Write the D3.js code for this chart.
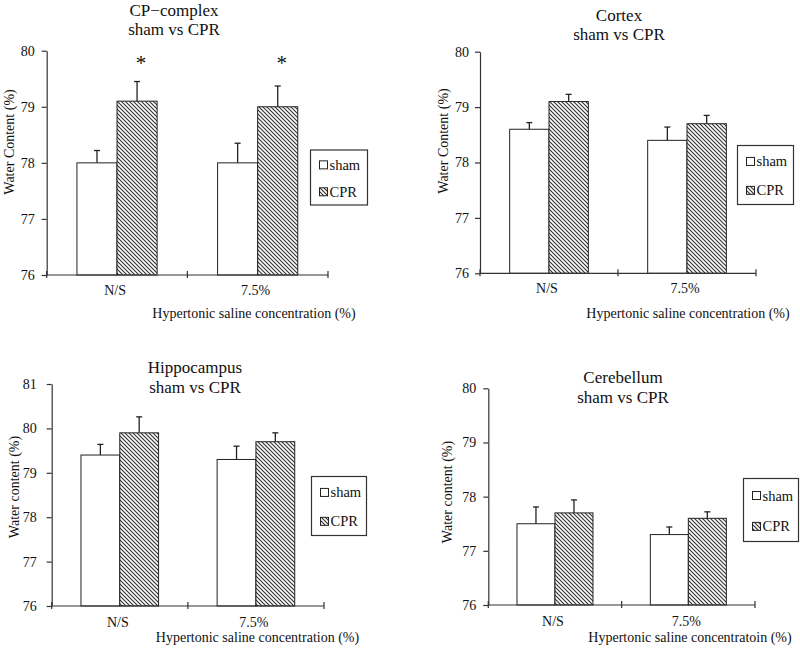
<!DOCTYPE html>
<html>
<head>
<meta charset="utf-8">
<script src="https://cdn.jsdelivr.net/npm/d3@7"></script>
<style>
  html, body { margin: 0; padding: 0; background: #fff; }
  svg { display: block; }
  text { font-family: "Liberation Serif", "Times New Roman", serif; fill: #111; }
</style>
</head>
<body>
<div id="chart"></div>
<script>
// ---------- data ----------
const categories = ["N/S", "7.5%"];
const seriesNames = ["sham", "CPR"];

const cpTitle = ["CP\u2212complex", "sham vs CPR"];
const cpSham = [78.0, 78.0];
const cpShamErr = [0.22, 0.35];
const cpCpr = [79.1, 79.0];
const cpCprErr = [0.35, 0.37];
const cpStars = ["*", "*"]; // marks above CPR bars
const cpYTicks = [76, 77, 78, 79, 80];

const cortexTitle = ["Cortex", "sham vs CPR"];
const cortexSham = [78.6, 78.4];
const cortexShamErr = [0.12, 0.24];
const cortexCpr = [79.1, 78.7];
const cortexCprErr = [0.13, 0.15];
const cortexYTicks = [76, 77, 78, 79, 80];

const hippoTitle = ["Hippocampus", "sham vs CPR"];
const hippoSham = [79.4, 79.3];
const hippoShamErr = [0.24, 0.30];
const hippoCpr = [79.9, 79.7];
const hippoCprErr = [0.36, 0.20];
const hippoYTicks = [76, 77, 78, 79, 80, 81];

const cereTitle = ["Cerebellum", "sham vs CPR"];
const cereSham = [77.5, 77.3];
const cereShamErr = [0.31, 0.14];
const cereCpr = [77.7, 77.6];
const cereCprErr = [0.24, 0.12];
const cereYTicks = [76, 77, 78, 79, 80];

const noStars = ["", ""];
const yLabelUpper = "Water Content (%)";
const yLabelLower = "Water content (%)";
const xLabelA = "Hypertonic saline concentration (%)";
const xLabelB = "Hypertonic saline concentratoin (%)";

// ---------- svg ----------
const W = 800, H = 648;
const svg = d3.select("#chart").append("svg").attr("width", W).attr("height", H);

const defs = svg.append("defs");
const pat = defs.append("pattern")
  .attr("id", "hatch").attr("patternUnits", "userSpaceOnUse")
  .attr("width", 4).attr("height", 4);
pat.append("rect").attr("width", 4).attr("height", 4).attr("fill", "#fff");
pat.append("path")
  .attr("d", "M-1,-1 L5,5 M-1,3 L1,5 M3,-1 L5,1")
  .attr("stroke", "#333").attr("stroke-width", 1.15);

// ---------- panel layout (positions only) ----------
const panels = [
  { title: cpTitle, sham: cpSham, shamErr: cpShamErr, cpr: cpCpr, cprErr: cpCprErr, stars: cpStars,
    ticks: cpYTicks, yLabel: yLabelUpper, xLabel: xLabelA,
    x0: 46.7, x1: 328, yTop: 50.7, yBot: 275, tickPad: 7,
    titleX: 174, titleY: [16, 35], yLabX: 9, yLabY: 142,
    catDy: 20, xLabX: 254, xLabY: 318,
    legend: { x: 310.5, y: 150, w: 57, h: 55 } },
  { title: cortexTitle, sham: cortexSham, shamErr: cortexShamErr, cpr: cortexCpr, cprErr: cortexCprErr, stars: noStars,
    ticks: cortexYTicks, yLabel: yLabelUpper, xLabel: xLabelA,
    x0: 480, x1: 756, yTop: 51.7, yBot: 273.3, tickPad: 6,
    titleX: 619, titleY: [21, 40], yLabX: 443, yLabY: 141,
    catDy: 20, xLabX: 688, xLabY: 318,
    legend: { x: 737.5, y: 145.5, w: 56, h: 59 } },
  { title: hippoTitle, sham: hippoSham, shamErr: hippoShamErr, cpr: hippoCpr, cprErr: hippoCprErr, stars: noStars,
    ticks: hippoYTicks, yLabel: yLabelLower, xLabel: xLabelA,
    x0: 51.7, x1: 324, yTop: 384, yBot: 606, tickPad: 10,
    titleX: 195, titleY: [373, 393], yLabX: 14, yLabY: 487,
    catDy: 21, xLabX: 257.5, xLabY: 642,
    legend: { x: 311.5, y: 476.5, w: 55, h: 59 } },
  { title: cereTitle, sham: cereSham, shamErr: cereShamErr, cpr: cereCpr, cprErr: cereCprErr, stars: noStars,
    ticks: cereYTicks, yLabel: yLabelLower, xLabel: xLabelB,
    x0: 488.3, x1: 755, yTop: 388.3, yBot: 605, tickPad: 7,
    titleX: 623, titleY: [383, 403], yLabX: 447, yLabY: 492,
    catDy: 21, xLabX: 690, xLabY: 642,
    legend: { x: 743.5, y: 478.5, w: 55, h: 63 } }
];

const fills = { sham: "#fff", CPR: "url(#hatch)" };

panels.forEach(p => {
  const g = svg.append("g");
  const domainMin = d3.min(p.ticks), domainMax = d3.max(p.ticks);
  const y = d3.scaleLinear().domain([domainMin, domainMax]).range([p.yBot, p.yTop]);
  const x = d3.scaleBand().domain(categories).range([p.x0, p.x1])
    .paddingInner(0.43).paddingOuter(0.215);
  const xs = d3.scaleBand().domain(seriesNames).range([0, x.bandwidth()]);

  // title
  p.title.forEach((t, i) => {
    g.append("text").attr("x", p.titleX).attr("y", p.titleY[i])
      .attr("text-anchor", "middle").attr("font-size", 17).text(t);
  });

  // y axis
  const yAxis = d3.axisLeft(y).tickValues(p.ticks).tickSize(5).tickSizeOuter(0)
    .tickPadding(p.tickPad).tickFormat(d3.format("d"));
  const ya = g.append("g").attr("transform", `translate(${p.x0},0)`).call(yAxis);
  ya.selectAll("path, line").attr("stroke", "#333").attr("stroke-width", 1.2);
  ya.selectAll("text").attr("font-size", 14)
    .style("font-family", '"Liberation Serif", serif').attr("fill", "#111");

  // y label
  g.append("text").attr("transform", `translate(${p.yLabX},${p.yLabY}) rotate(-90)`)
    .attr("text-anchor", "middle").attr("dominant-baseline", "central")
    .attr("font-size", 14).text(p.yLabel);

  // bars
  const rows = [];
  categories.forEach((c, i) => {
    rows.push({ cat: c, ser: "sham", v: p.sham[i], e: p.shamErr[i], star: "" });
    rows.push({ cat: c, ser: "CPR", v: p.cpr[i], e: p.cprErr[i], star: p.stars[i] });
  });
  const bars = g.append("g");
  rows.forEach(r => {
    const bx = x(r.cat) + xs(r.ser);
    const cx = bx + xs.bandwidth() / 2;
    bars.append("line").attr("x1", cx).attr("x2", cx)
      .attr("y1", y(r.v)).attr("y2", y(r.v + r.e))
      .attr("stroke", "#222").attr("stroke-width", 1.3);
    bars.append("line").attr("x1", cx - 3).attr("x2", cx + 3)
      .attr("y1", y(r.v + r.e)).attr("y2", y(r.v + r.e))
      .attr("stroke", "#222").attr("stroke-width", 1.3);
    bars.append("rect").attr("x", bx).attr("y", y(r.v))
      .attr("width", xs.bandwidth()).attr("height", y(domainMin) - y(r.v))
      .attr("fill", fills[r.ser]).attr("stroke", "#222").attr("stroke-width", 1);
    if (r.star) {
      g.append("text").attr("x", cx + 4).attr("y", 70)
        .attr("text-anchor", "middle").attr("font-size", 21).text(r.star);
    }
  });

  // x axis line and boundary ticks
  const xg = g.append("g");
  xg.append("line").attr("x1", p.x0).attr("x2", p.x1).attr("y1", p.yBot).attr("y2", p.yBot)
    .attr("stroke", "#333").attr("stroke-width", 1.2);
  const bounds = [p.x0, x(categories[1]) - x.step() * x.paddingInner() / 2, p.x1];
  bounds.forEach(bx => {
    xg.append("line").attr("x1", bx).attr("x2", bx).attr("y1", p.yBot - 4).attr("y2", p.yBot + 3)
      .attr("stroke", "#333").attr("stroke-width", 1.2);
  });
  categories.forEach(c => {
    xg.append("text").attr("x", x(c) + x.bandwidth() / 2 - 2).attr("y", p.yBot + p.catDy)
      .attr("text-anchor", "middle").attr("font-size", 14).text(c);
  });
  g.append("text").attr("x", p.xLabX).attr("y", p.xLabY)
    .attr("text-anchor", "middle").attr("font-size", 14).text(p.xLabel);

  // legend
  const L = p.legend;
  const lg = g.append("g");
  lg.append("rect").attr("x", L.x).attr("y", L.y).attr("width", L.w).attr("height", L.h)
    .attr("fill", "#fff").attr("stroke", "#333").attr("stroke-width", 1.2);
  seriesNames.forEach((s, i) => {
    const cy = L.y + L.h * (i === 0 ? 0.27 : 0.76);
    lg.append("rect").attr("x", L.x + 9).attr("y", cy - 4).attr("width", 8).attr("height", 8)
      .attr("fill", fills[s]).attr("stroke", "#222").attr("stroke-width", 1);
    lg.append("text").attr("x", L.x + 19).attr("y", cy).attr("dominant-baseline", "central")
      .attr("font-size", 14.5).text(s);
  });
});
</script>
</body>
</html>
